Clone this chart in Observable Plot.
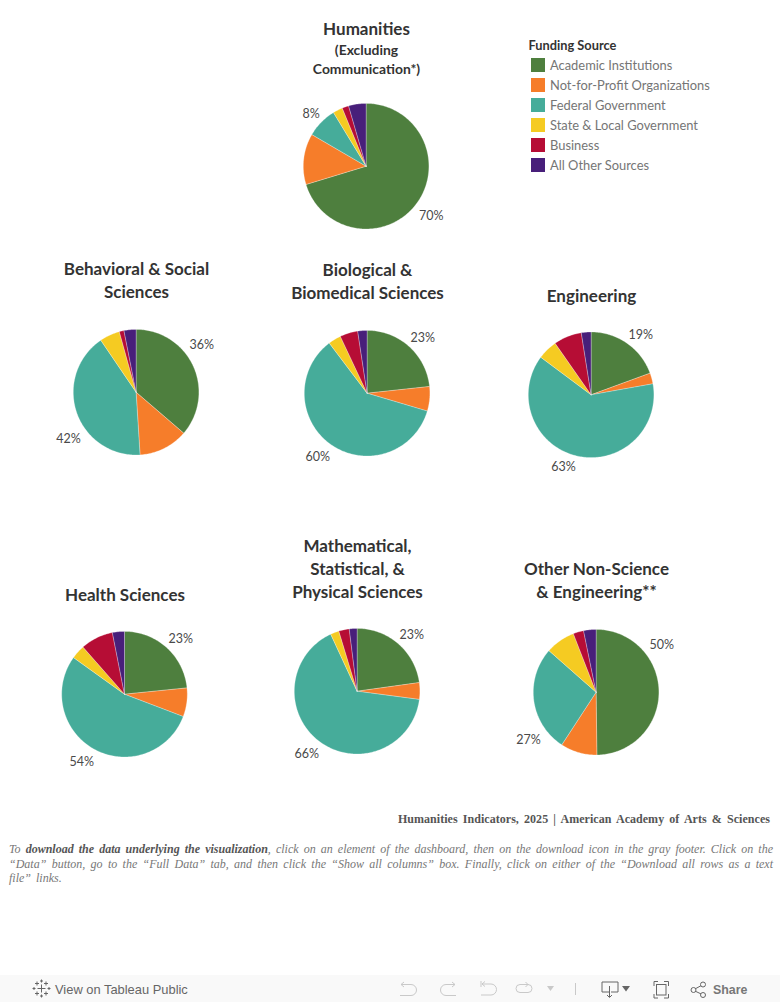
<!DOCTYPE html>
<html lang="en">
<head>
<meta charset="utf-8">
<title>Funding Source by Field</title>
<script src="https://cdn.jsdelivr.net/npm/d3@7"></script>
<script src="https://cdn.jsdelivr.net/npm/@observablehq/plot@0.6"></script>
<style>
  html, body { margin: 0; padding: 0; background: #fff; width: 780px; height: 1002px; overflow: hidden; }
  #page { position: relative; width: 780px; height: 1002px; }
  #chart svg { display: block; }
  #credit { position: absolute; right: 10px; top: 811px; font: bold 12px/16px "Liberation Serif", serif; color: #555; word-spacing: 2.1px; letter-spacing: .04px; white-space: nowrap; }
  #note { position: absolute; left: 9px; top: 842px; width: 764px; font: italic 12px/14.5px "Liberation Serif", serif; color: #777; text-align: justify; word-spacing: 2px; }
  #note b { color: #555; }
  #toolbar { position: absolute; left: 0; top: 975px; width: 780px; height: 27px; background: #f9f9f9; }
  #toolbar svg { position: absolute; left: 0; top: 0; }
</style>
</head>
<body>
<div id="page">
  <div id="chart"></div>
  <div id="credit">Humanities Indicators, 2025 | American Academy of Arts &amp; Sciences</div>
  <div id="note">To <b>download the data underlying the visualization</b>, click on an element of the dashboard, then on the download icon in the gray footer. Click on the “Data” button, go to the “Full Data” tab, and then click the “Show all columns” box. Finally, click on either of the “Download all rows as a text file” links.</div>
  <div id="toolbar">
    <svg width="780" height="27" viewBox="0 0 780 27" fill="none" stroke="#c9c9c9" stroke-width="1">
      <g stroke="#666" stroke-width="1">
        <path d="M41.500 9.500v8M37.500 13.500h8"/>
        <path d="M37 6.500v4M35 8.500h4M46 6.500v4M44 8.500h4M37 16.500v4M35 18.500h4M46 16.500v4M44 18.500h4"/>
        <path d="M41.500 4.500v3M40 6h3M41.500 19.500v3M40 21h3M34 12v3M32.500 13.500h3M49 12v3M47.500 13.500h3"/>
      </g>
      <path d="M401 9.500h10a5 5 0 0 1 0 11h-11M401 9.500l3-2.500M401 9.500l3 2.500"/>
      <path d="M455 9.500h-9a5.500 5.500 0 0 0 0 11h10M455 9.500l-3-2.500M455 9.500l-3 2.500"/>
      <path d="M481 6v6M482 9h9a5 5 0 0 1 0 11h-10M482 9l3-2.500M482 9l3 2.500"/>
      <path d="M520 9.500h8a4 4 0 0 1 0 8h-8a4 4 0 0 1 0-8M528 9.500l-2.500-2.500M528 9.500l-2.500 2.500"/>
      <path d="M547 11h7l-3.500 5z" fill="#c9c9c9" stroke="none"/>
      <path d="M575.500 8v12"/>
      <g stroke="#666">
        <path d="M609 17h-7v-10h16v10h-7"/><path d="M609.500 11v11M607 20l2.500 2.500 2.500-2.500"/>
        <path d="M622 11h8l-4 5.500z" fill="#666" stroke="none"/>
        <path d="M654 11v-4.500h4M664 6.500h4.500v4.500M668.500 19v4h-4.500M658 23h-4v-4"/>
        <rect x="656.500" y="9.500" width="9.500" height="10.500"/>
        <circle cx="703" cy="9.500" r="2.500"/><circle cx="703" cy="20" r="2.500"/><circle cx="693.500" cy="15" r="2.500"/>
        <path d="M695.500 13.700l5.500-3M695.500 16.300l5.500 2.600"/>
      </g>
      <g fill="#666" stroke="none" font-family="Liberation Sans, Arial, sans-serif">
        <text x="55" y="18.500" font-size="12.900">View on Tableau Public</text>
        <text x="713" y="18.500" font-size="12.400" font-weight="bold" fill="#777">Share</text>
      </g>
    </svg>
  </div>
</div>
<script>
// ---- Legend categories and colours ----
const sources = ["Academic Institutions", "Not-for-Profit Organizations", "Federal Government",
                 "State & Local Government", "Business", "All Other Sources"];
const sourceColors = ["#4e7f3e", "#f67d2a", "#46ac9a", "#f5cb22", "#b60d35", "#481f7a"];

// ---- Shares (%) per field, in legend order ----
const humanities  = [70.3, 13.1, 7.9, 2.5, 1.7, 4.5];
const behavioral  = [36.3, 12.7, 41.5, 5.2, 1.2, 3.1];
const biological  = [23.3, 6.3, 60.1, 3.3, 4.6, 2.4];
const engineering = [19.4, 2.8, 63.0, 5.1, 7.2, 2.5];
const health      = [23.4, 7.4, 54.1, 3.6, 8.4, 3.1];
const mathematics = [22.8, 4.3, 66.0, 2.2, 2.7, 2.0];
const otherFields = [49.8, 9.4, 27.3, 7.6, 2.7, 3.2];

// ---- Layout (page pixels): pie centre, title lines, percent-label places ----
const R = 62.8;
const pies = [
  {shares: humanities,  cx: 365.6, cy: 165.7, labels: [["8%", 310.7, 113.2], ["70%", 430.7, 215]]},
  {shares: behavioral,  cx: 135.6, cy: 391.7, labels: [["36%", 201.3, 344.2], ["42%", 68, 438]]},
  {shares: biological,  cx: 366.6, cy: 392.7, labels: [["23%", 422.3, 337.2], ["60%", 317.3, 456.2]]},
  {shares: engineering, cx: 590.6, cy: 394.3, labels: [["19%", 640.3, 334.2], ["63%", 563, 466.2]]},
  {shares: health,      cx: 124, cy: 693.7, labels: [["23%", 180.3, 638.2], ["54%", 81.3, 761.2]]},
  {shares: mathematics, cx: 356.6, cy: 690.7, labels: [["23%", 411.3, 634.2], ["66%", 306.3, 753.2]]},
  {shares: otherFields, cx: 595.6, cy: 691.7, labels: [["50%", 661.3, 644.2], ["27%", 528, 739.2]]}
];
const titleLines = [
  {text: "Humanities", x: 366, y: 29.5, size: 17},
  {text: "(Excluding", x: 366, y: 50.5, size: 13.9},
  {text: "Communication*)", x: 366, y: 69.5, size: 13.9},
  {text: "Behavioral & Social", x: 136, y: 269.5, size: 17},
  {text: "Sciences", x: 136, y: 292.5, size: 17},
  {text: "Biological &", x: 367, y: 270.5, size: 17},
  {text: "Biomedical Sciences", x: 367, y: 293.5, size: 17},
  {text: "Engineering", x: 591, y: 296.5, size: 17},
  {text: "Health Sciences", x: 124.500, y: 595.5, size: 17},
  {text: "Mathematical,", x: 357, y: 546.5, size: 17},
  {text: "Statistical, &", x: 357, y: 569.5, size: 17},
  {text: "Physical Sciences", x: 357, y: 592.5, size: 17},
  {text: "Other Non-Science", x: 596, y: 569.5, size: 17},
  {text: "& Engineering**", x: 596, y: 592.5, size: 17}
];

// Build wedge outlines from the shares; the fill goes through Plot's colour scale.
const wedges = pies.flatMap((pie, p) => {
  let cum = 0;
  return pie.shares.flatMap((share, s) => {
    const a0 = cum / 100 * 2 * Math.PI;
    cum += share;
    const a1 = cum / 100 * 2 * Math.PI;
    const n = Math.max(2, Math.ceil((a1 - a0) / 0.02));
    const centre = {id: `${p}-${s}`, source: sources[s], x: pie.cx, y: pie.cy};
    const rim = d3.range(n + 1).map(i => {
      const a = a0 + (a1 - a0) * i / n;
      return {id: centre.id, source: sources[s], x: pie.cx + R * Math.sin(a), y: pie.cy - R * Math.cos(a)};
    });
    return [centre, ...rim, centre];
  });
});
const pctLabels = pies.flatMap(pie => pie.labels.map(([text, x, y]) => ({text, x, y})));
const legendRows = sources.map((source, i) => ({source, top: 58 + 20 * i}));

const bodyFont = "Lato, 'Noto Sans', sans-serif";
const chart = Plot.plot({
  width: 780, height: 800,
  margin: 0,
  x: {domain: [0, 780], range: [0, 780], axis: null},
  y: {domain: [0, 800], range: [0, 800], axis: null},
  color: {type: "categorical", domain: sources, range: sourceColors},
  style: {background: "transparent"},
  marks: [
    Plot.line(wedges, {x: "x", y: "y", z: "id", fill: "source", stroke: "#fff", strokeWidth: 0.6, strokeOpacity: 0.45, curve: "linear"}),
    Plot.text(pctLabels, {x: "x", y: "y", text: "text", fontSize: 12.5, fontFamily: bodyFont, fill: "#4a4a4a", lineAnchor: "middle"}),
    Plot.text(titleLines, {x: "x", y: "y", text: "text", fontSize: "size", fontFamily: bodyFont, fontWeight: 700, fill: "#333", lineAnchor: "middle"}),
    Plot.text(["Funding Source"], {x: [528], y: [45], text: d => d, textAnchor: "start", lineAnchor: "middle", fontSize: 12.8, fontWeight: 700, fontFamily: bodyFont, fill: "#333"}),
    Plot.rect(legendRows, {x1: () => 531, x2: () => 545, y1: "top", y2: d => d.top + 14, fill: "source"}),
    Plot.text(legendRows, {x: () => 549.5, y: d => d.top + 7, text: "source", textAnchor: "start", lineAnchor: "middle", fontSize: 12.9, fontFamily: bodyFont, fill: "#757575"})
  ]
});
document.getElementById("chart").appendChild(chart);
</script>
</body>
</html>
